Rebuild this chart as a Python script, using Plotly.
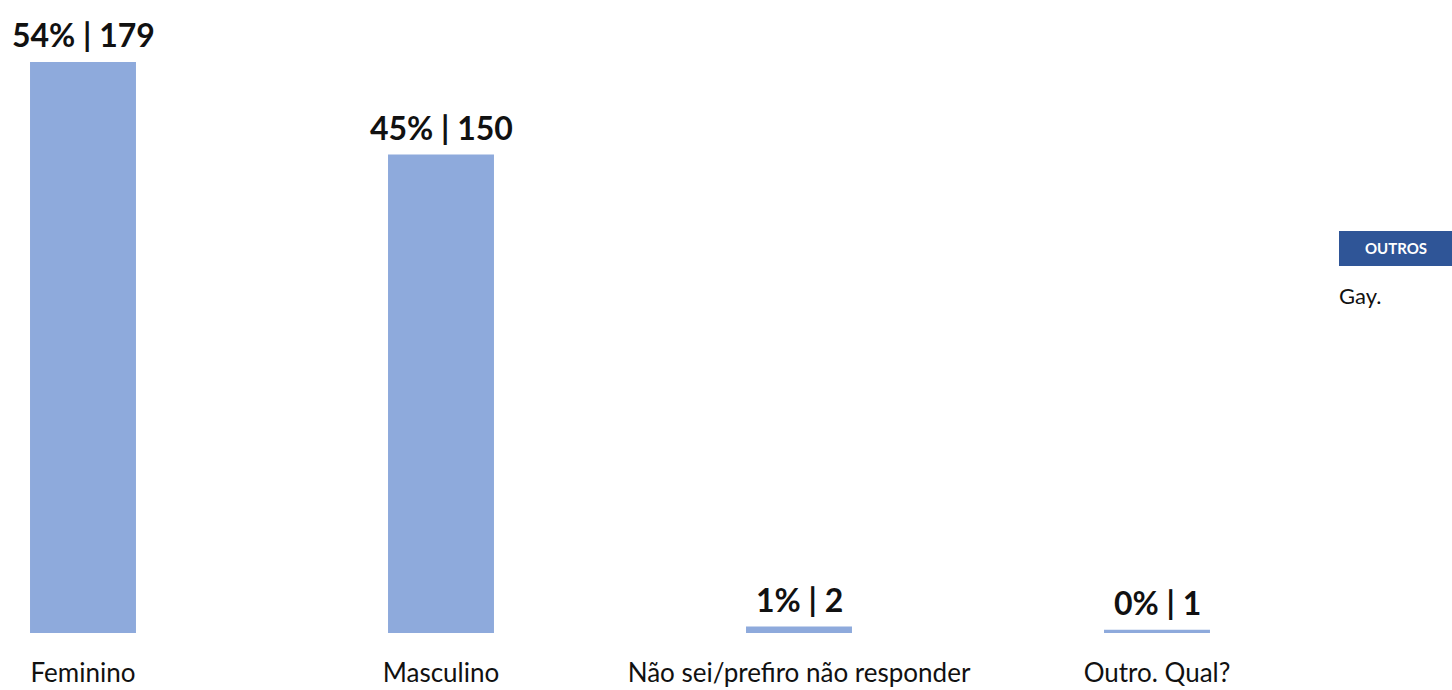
import plotly.graph_objects as go

categories = ["Feminino", "Masculino", "Não sei/prefiro não responder", "Outro. Qual?"]
counts = [179, 150, 2, 1]
percents = [54, 45, 1, 0]
other_answers = ["Gay."]

bar_color = "#8EAADC"
positions = list(range(len(categories)))
labels = [f"{p}% | {c}" for p, c in zip(percents, counts)]

fig = go.Figure()
fig.add_trace(go.Bar(
    x=positions, y=counts, width=0.296,
    marker=dict(color=bar_color, line=dict(width=0)),
    hoverinfo="skip",
))

for x, y, t in zip(positions, counts, labels):
    fig.add_annotation(
        x=x, y=y, text=f"<b>{t}</b>", showarrow=False,
        xanchor="center", yanchor="bottom", yshift=6,
        font=dict(family="Lato", size=32, color="#111111"),
    )

# "Outros" side panel
fig.add_shape(type="rect", xref="paper", yref="paper",
              x0=1339 / 1452, x1=1.0, y0=1 - 266 / 633, y1=1 - 231 / 633,
              fillcolor="#2F5597", line=dict(width=0), layer="above")
fig.add_annotation(xref="paper", yref="paper", x=(1339 + 1452) / 2 / 1452,
                   y=1 - 248.5 / 633, text="<b>OUTROS</b>", showarrow=False,
                   xanchor="center", yanchor="middle",
                   font=dict(family="Lato", size=15, color="white"))
fig.add_annotation(xref="paper", yref="paper", x=1339 / 1452,
                   y=1 - 295 / 633, text="<br>".join(other_answers), showarrow=False,
                   xanchor="left", yanchor="middle", xshift=-2,
                   font=dict(family="Lato", size=22, color="#111111"))

fig.update_layout(
    width=1452, height=690,
    margin=dict(l=0, r=0, t=0, b=57),
    paper_bgcolor="white", plot_bgcolor="white",
    showlegend=False,
    xaxis=dict(
        range=[-83 / 358, (1452 - 83) / 358],
        tickmode="array", tickvals=positions, ticktext=categories,
        tickfont=dict(family="Lato", size=26, color="#111111"),
        showgrid=False, zeroline=False, showline=False, ticks="",
        ticklabelstandoff=22,
    ),
    yaxis=dict(range=[0, 633 / 3.19], visible=False),
)

fig.write_html("out.html")
